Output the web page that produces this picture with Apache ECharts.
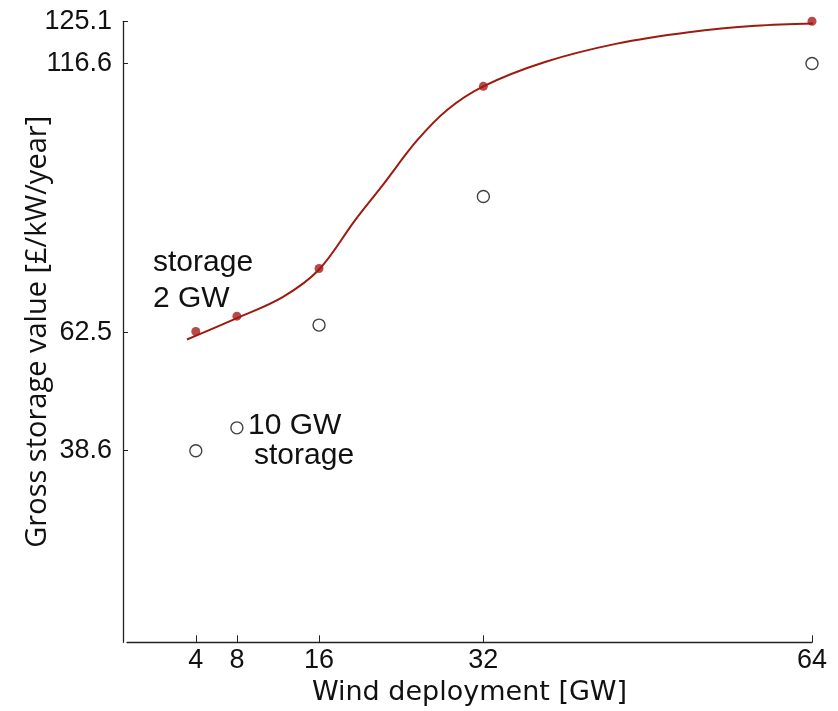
<!DOCTYPE html>
<html><head><meta charset="utf-8">
<script src="https://cdn.jsdelivr.net/npm/echarts@6/dist/echarts.min.js"></script>
<style>html,body{margin:0;padding:0;background:#fff}#c{width:838px;height:711px}</style>
</head><body><div id="c"></div>
<script>
const windGW = [4, 8, 16, 32, 64];
const value2GW = [62.6, 65.7, 75.3, 112.0, 125.1];
const value10GW = [38.6, 43.2, 63.9, 89.8, 116.6];
const fitX = [3.14, 8.0, 12.5, 16.0, 19.5, 22.2, 25.5, 28.5, 32.0, 38.0, 45.0, 52.0, 58.5, 64.9];
const fitY = [61.0, 65.3, 69.6, 75.1, 85.0, 92.1, 101.0, 107.3, 112.0, 116.9, 120.6, 122.9, 124.2, 124.7];
const xTicks = [4, 8, 16, 32, 64];
const yTicks = [38.6, 62.5, 116.6, 125.1];

const chart = echarts.init(document.getElementById('c'), null, {renderer: 'canvas'});
const tickFont = 'Liberation Sans';
chart.setOption({
  animation: false,
  grid: {left: 127, right: 26, top: 21.3, bottom: 68.7, containLabel: false, outerBoundsMode: 'none'},
  xAxis: {
    type: 'value', min: -2.7, max: 64,
    name: 'Wind deployment [GW]', nameLocation: 'middle', nameGap: 37, nameMoveOverlap: false,
    nameTextStyle: {fontFamily: 'DejaVu Sans', fontSize: 27, color: '#111'},
    axisLine: {show: true, onZero: false, lineStyle: {color: '#222', width: 1.3}},
    axisTick: {show: true, inside: true, length: 7, customValues: xTicks, lineStyle: {color: '#222'}},
    axisLabel: {customValues: xTicks, margin: 5, fontFamily: tickFont, fontSize: 27, color: '#111'},
    splitLine: {show: false}
  },
  yAxis: {
    type: 'value', min: 0, max: 125.1, offset: 4,
    name: 'Gross storage value [£/kW/year]', nameLocation: 'middle', nameGap: 71, nameMoveOverlap: false,
    nameTextStyle: {fontFamily: 'Open Sans', fontSize: 29, color: '#111'},
    axisLine: {show: true, onZero: false, lineStyle: {color: '#222', width: 1.3}},
    axisTick: {show: true, inside: true, length: 5, customValues: yTicks, lineStyle: {color: '#222'}},
    axisLabel: {customValues: yTicks, margin: 11, fontFamily: tickFont, fontSize: 27, color: '#111'},
    splitLine: {show: false}
  },
  series: [
    {
      type: 'line', data: fitX.map((x, i) => [x, fitY[i]]), smooth: 0.35,
      showSymbol: false, clip: false,
      lineStyle: {color: '#9e1a0c', width: 2}
    },
    {
      type: 'scatter', data: windGW.map((x, i) => [x, value2GW[i]]),
      symbol: 'circle', symbolSize: 9, itemStyle: {color: '#a81c1c'}, clip: false
    },
    {
      type: 'scatter', data: windGW.map((x, i) => [x, value10GW[i]]),
      symbol: 'circle', symbolSize: 12, clip: false,
      itemStyle: {color: '#fff', borderColor: '#111', borderWidth: 1.4}
    }
  ],
  graphic: [
    {type: 'text', left: 153, top: 245, style: {text: 'storage\n2 GW', fontFamily: 'Liberation Sans', fontSize: 30, lineHeight: 36, fill: '#111'}},
    {type: 'text', left: 248, top: 411, style: {text: '10 GW', fontFamily: 'Liberation Sans', fontSize: 30, lineHeight: 30, fill: '#111'}},
    {type: 'text', left: 254, top: 441, style: {text: 'storage', fontFamily: 'Liberation Sans', fontSize: 30, lineHeight: 30, fill: '#111'}}
  ]
});
</script></body></html>
